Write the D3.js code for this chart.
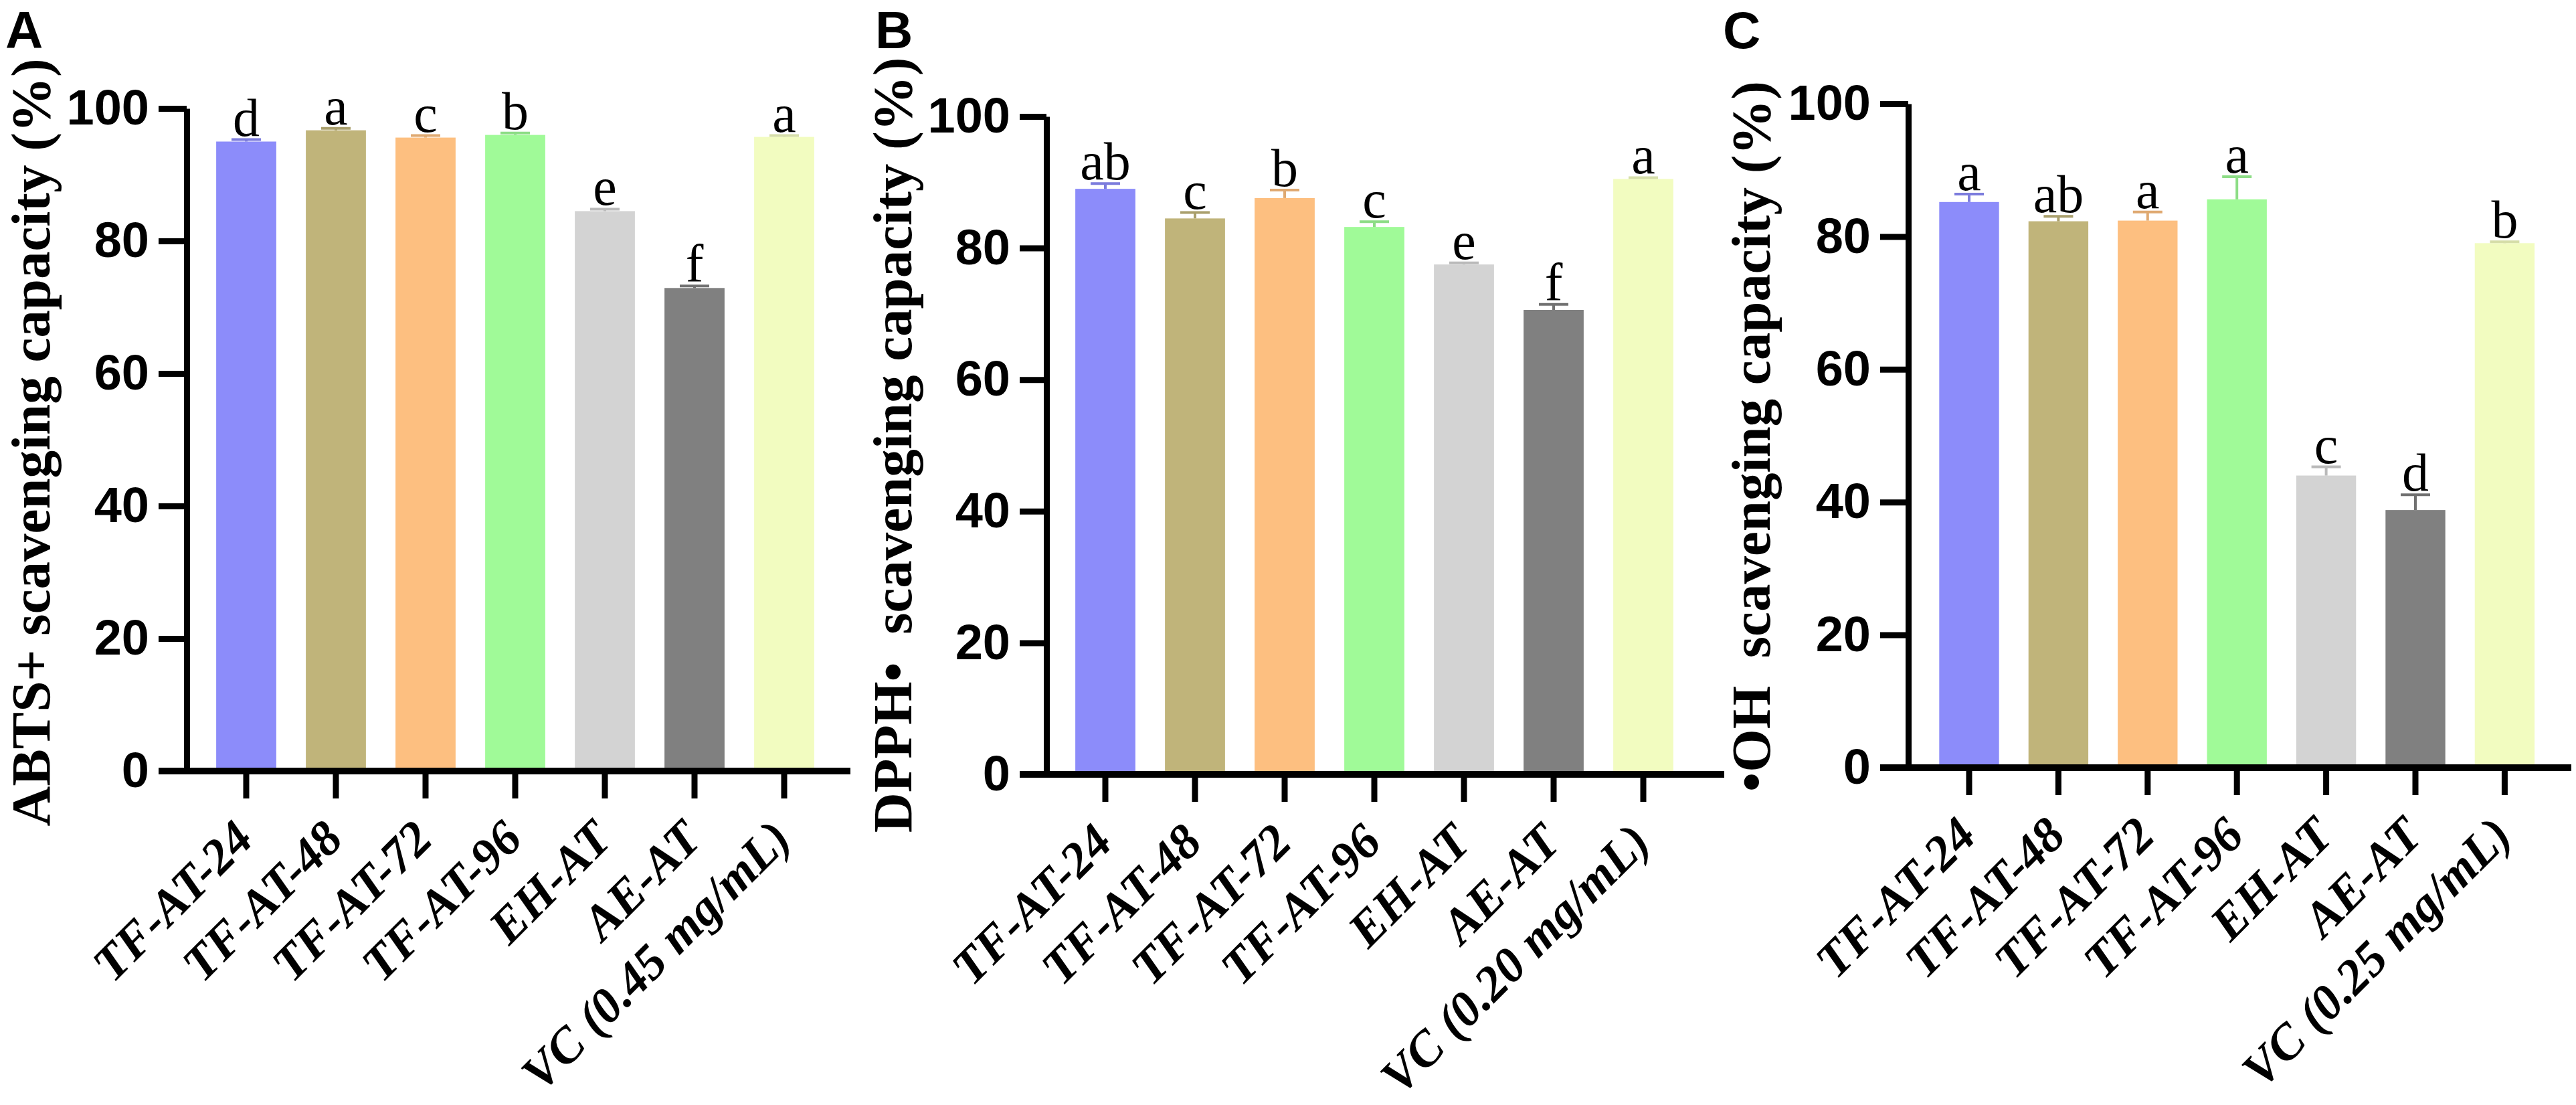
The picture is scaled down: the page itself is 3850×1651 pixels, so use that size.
<!DOCTYPE html>
<html><head><meta charset="utf-8">
<script src="https://cdn.jsdelivr.net/npm/d3@7/dist/d3.min.js"></script>
<style>html,body{margin:0;padding:0;background:#fff;} svg{display:block;}</style>
</head><body>
<svg id="chart" width="3850" height="1651"></svg>
<script>
// ---------- data ----------
const categories = ["TF-AT-24","TF-AT-48","TF-AT-72","TF-AT-96","EH-AT","AE-AT","VC"];
const vcLabels = ["VC (0.45 mg/mL)","VC (0.20 mg/mL)","VC (0.25 mg/mL)"];
const barColors = ["#8C8CFA","#C0B47A","#FDBF80","#A0FA98","#D3D3D3","#808080","#F2FCC0"];
const yTicks = [0,20,40,60,80,100];

const abtsValues = [95.0,96.7,95.6,96.0,84.5,72.9,95.7];
const abtsErrors = [0.3,0.3,0.3,0.3,0.3,0.3,0.2];
const abtsLetters = ["d","a","c","b","e","f","a"];

const dpphValues = [89.0,84.5,87.6,83.2,77.5,70.6,90.5];
const dpphErrors = [0.8,0.9,1.2,0.8,0.25,0.85,0.2];
const dpphLetters = ["ab","c","b","c","e","f","a"];

const ohValues = [85.2,82.3,82.4,85.6,44.0,38.8,79.0];
const ohErrors = [1.2,0.75,1.3,3.4,1.3,2.3,0.2];
const ohLetters = ["a","ab","a","a","c","d","b"];

const yTitles = ["ABTS+ scavenging capacity (%)","DPPH\u2022  scavenging capacity (%)","\u2022OH  scavenging capacity (%)"];
const panelLetters = ["A","B","C"];

// ---------- layout (positions only) ----------
const layout = [
  {axisX:279, y0:1152, y100:162, first:368, step:134, xEnd:1271, yTick:42, titleX:74, titleY:661, lx:8, ly:72},
  {axisX:1564, y0:1157, y100:174, first:1652, step:134, xEnd:2577, yTick:40, titleX:1362, titleY:665, lx:1308, ly:72},
  {axisX:2852, y0:1147, y100:155, first:2943, step:133.4, xEnd:3843, yTick:42, titleX:2645, titleY:652, lx:2575, ly:72}
];
const panels = [
  {values:abtsValues, errors:abtsErrors, letters:abtsLetters},
  {values:dpphValues, errors:dpphErrors, letters:dpphLetters},
  {values:ohValues, errors:ohErrors, letters:ohLetters}
];

const sans = "'Liberation Sans', Arial, sans-serif";
const serif = "'Liberation Serif', 'Times New Roman', serif";
const svg = d3.select("#chart");
const color = d3.scaleOrdinal().domain(categories).range(barColors);

panels.forEach((p, pi) => {
  const L = layout[pi];
  const g = svg.append("g");
  const x = d3.scaleBand().domain(categories)
    .range([L.first - L.step/2, L.first - L.step/2 + categories.length*L.step])
    .paddingInner(0.33).paddingOuter(0.165);
  const y = d3.scaleLinear().domain([0,100]).range([L.y0, L.y100]);
  const rows = categories.map((c,i)=>({c, v:p.values[i], e:p.errors[i], l:p.letters[i]}));

  // bars
  g.selectAll("rect.bar").data(rows).join("rect").attr("class","bar")
    .attr("x", d=>x(d.c)).attr("width", x.bandwidth())
    .attr("y", d=>y(d.v)).attr("height", d=>y(0)-y(d.v))
    .attr("fill", d=>color(d.c));

  // error bars
  const cx = d=>x(d.c)+x.bandwidth()/2;
  g.selectAll("line.err").data(rows).join("line").attr("class","err")
    .attr("x1",cx).attr("x2",cx).attr("y1",d=>y(d.v)).attr("y2",d=>y(d.v+d.e))
    .attr("stroke",d=>d3.color(color(d.c)).darker(0.35)).attr("stroke-width",4);
  g.selectAll("line.cap").data(rows).join("line").attr("class","cap")
    .attr("x1",d=>cx(d)-22).attr("x2",d=>cx(d)+22).attr("y1",d=>y(d.v+d.e)).attr("y2",d=>y(d.v+d.e))
    .attr("stroke",d=>d3.color(color(d.c)).darker(0.35)).attr("stroke-width",4);

  // significance letters
  g.selectAll("text.sig").data(rows).join("text").attr("class","sig")
    .attr("x",cx).attr("y",d=>y(d.v+d.e)-6)
    .attr("text-anchor","middle").style("font-family",serif).style("font-size","80px")
    .text(d=>d.l);

  // y axis
  const ya = g.append("g").attr("transform",`translate(${L.axisX},0)`)
    .call(d3.axisLeft(y).tickValues(yTicks).tickSize(L.yTick).tickSizeOuter(0).tickPadding(14));
  ya.select(".domain").attr("stroke","#000").attr("stroke-width",9);
  ya.selectAll(".tick line").attr("stroke","#000").attr("stroke-width",9);
  ya.selectAll(".tick text").style("font-family",sans).style("font-weight","bold")
    .style("font-size","74px").attr("fill","#000");

  // x axis
  const xa = g.append("g").attr("transform",`translate(0,${L.y0})`)
    .call(d3.axisBottom(x).tickSize(41).tickSizeOuter(0)
      .tickFormat(c => c==="VC" ? vcLabels[pi] : c));
  xa.select(".domain").remove();
  xa.selectAll(".tick line").attr("stroke","#000").attr("stroke-width",9);
  xa.selectAll(".tick text").attr("x",0).attr("y",0).attr("dy",0)
    .attr("text-anchor","end").attr("transform","translate(14,105) rotate(-45)")
    .style("font-family",serif).style("font-weight","bold").style("font-style","italic")
    .style("font-size","74px").attr("fill","#000");
  g.append("line").attr("x1",L.axisX-L.yTick).attr("x2",L.xEnd).attr("y1",L.y0).attr("y2",L.y0)
    .attr("stroke","#000").attr("stroke-width",10);

  // y title
  g.append("text").attr("transform",`translate(${L.titleX},${L.titleY}) rotate(-90)`)
    .attr("text-anchor","middle").style("white-space","pre")
    .style("font-family",serif).style("font-weight","bold").style("font-size","83px")
    .text(yTitles[pi]);

  // panel letter
  g.append("text").attr("x",L.lx).attr("y",L.ly)
    .style("font-family",sans).style("font-weight","bold").style("font-size","78px")
    .text(panelLetters[pi]);
});
</script>
</body></html>
